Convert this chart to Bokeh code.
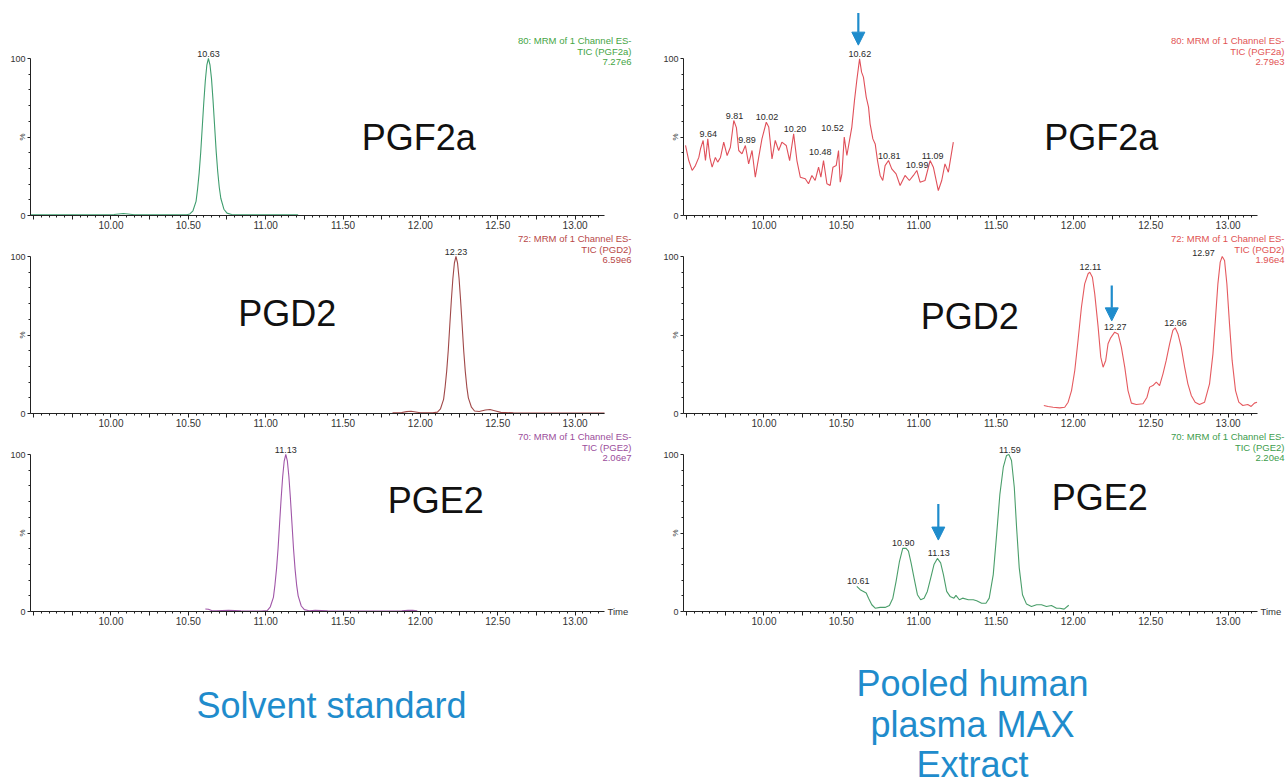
import math
from bokeh.plotting import figure
from bokeh.models import (ColumnDataSource, LabelSet, Label, Arrow, NormalHead,
                          FixedTicker, CustomJSTickFormatter, Range1d, LinearAxis)
from bokeh.layouts import row, column
from bokeh.embed import file_html
from bokeh.resources import INLINE
from bokeh.core.properties import value

# ---------------- data (retention time in min, relative intensity in %) ----------------
# Solvent standard
pgf2a_std_time = [9.48, 9.70, 9.90, 10.02, 10.05, 10.08, 10.11, 10.15, 10.30, 10.45,
                  10.49, 10.51, 10.53, 10.55, 10.56, 10.57, 10.58, 10.59, 10.60, 10.61,
                  10.62, 10.63, 10.64, 10.65, 10.66, 10.67, 10.68, 10.69, 10.70, 10.71,
                  10.73, 10.75, 10.78, 10.85, 11.00, 11.21]
pgf2a_std_int = [0.4, 0.4, 0.4, 0.6, 1.0, 1.3, 1.0, 0.5, 0.4, 0.4,
                 0.5, 1.0, 3.0, 9.0, 17.0, 27.0, 40.0, 56.0, 72.0, 86.0,
                 96.0, 100.0, 96.0, 87.0, 73.0, 57.0, 41.0, 28.0, 18.0, 11.0,
                 4.0, 1.5, 0.6, 0.4, 0.4, 0.4]

pgd2_std_time = [11.82, 11.88, 11.91, 11.94, 11.97, 12.00, 12.08, 12.11, 12.13, 12.15,
                 12.16, 12.17, 12.18, 12.19, 12.20, 12.21, 12.22, 12.23, 12.24, 12.25,
                 12.26, 12.27, 12.28, 12.29, 12.30, 12.31, 12.33, 12.35, 12.38, 12.42,
                 12.45, 12.48, 12.52, 12.60, 12.80, 13.00, 13.19]
pgd2_std_int = [0.4, 0.6, 1.2, 1.4, 1.0, 0.5, 0.5, 0.9, 3.0, 9.0,
                17.0, 27.0, 40.0, 56.0, 72.0, 86.0, 96.0, 100.0, 96.0, 86.0,
                72.0, 56.0, 40.0, 27.0, 17.0, 10.0, 4.0, 1.6, 1.3, 2.2,
                2.5, 1.8, 0.7, 0.4, 0.3, 0.3, 0.3]

pge2_std_time = [10.61, 10.63, 10.65, 10.68, 10.72, 10.76, 10.80, 10.84, 10.90, 10.97,
                 11.01, 11.03, 11.05, 11.06, 11.07, 11.08, 11.09, 11.10, 11.11, 11.12,
                 11.13, 11.14, 11.15, 11.16, 11.17, 11.18, 11.19, 11.20, 11.21,
                 11.23, 11.25, 11.28, 11.32, 11.40, 11.60, 11.88, 11.92, 11.95, 11.98]
pge2_std_int = [1.6, 1.4, 0.6, 0.4, 0.6, 0.7, 0.6, 0.4, 0.3, 0.3,
                0.6, 3.0, 9.0, 17.0, 27.0, 40.0, 56.0, 72.0, 86.0, 96.0,
                100.0, 96.0, 86.0, 72.0, 56.0, 40.0, 27.0, 17.0, 10.0,
                3.5, 1.2, 0.5, 0.7, 0.4, 0.3, 0.4, 0.8, 0.7, 0.4]

# Pooled human plasma MAX extract
pgf2a_pl_time = [9.493, 9.514, 9.536, 9.557, 9.579, 9.590, 9.607, 9.622, 9.637, 9.650,
                 9.665, 9.686, 9.701, 9.719, 9.740, 9.762, 9.783, 9.805, 9.822, 9.837,
                 9.858, 9.880, 9.901, 9.923, 9.944, 9.966, 9.987, 10.015, 10.031, 10.052,
                 10.073, 10.095, 10.116, 10.144, 10.166, 10.192, 10.213, 10.235, 10.267, 10.288,
                 10.310, 10.331, 10.353, 10.368, 10.385, 10.407, 10.428, 10.446, 10.467, 10.482,
                 10.493, 10.504, 10.519, 10.536, 10.553, 10.568, 10.585, 10.600, 10.618, 10.631,
                 10.643, 10.661, 10.676, 10.686, 10.704, 10.719, 10.734, 10.751, 10.768, 10.783,
                 10.805, 10.826, 10.854, 10.880, 10.912, 10.940, 10.966, 10.988, 11.009, 11.041,
                 11.074, 11.095, 11.127, 11.149, 11.170, 11.192, 11.224]
pgf2a_pl_int = [44.6, 35.0, 28.7, 31.8, 37.0, 42.5, 47.8, 35.0, 48.8, 37.0,
                30.8, 37.0, 34.0, 37.0, 46.7, 38.2, 43.5, 60.5, 56.0, 41.4,
                39.3, 44.6, 32.9, 41.4, 24.4, 37.0, 48.8, 59.4, 56.3, 36.0,
                47.8, 41.4, 46.7, 44.6, 35.0, 52.0, 35.0, 24.4, 23.4, 20.2,
                25.5, 22.3, 30.8, 24.4, 35.0, 20.2, 19.1, 30.8, 31.8, 41.4,
                21.2, 26.5, 49.9, 38.2, 47.8, 56.3, 73.2, 86.0, 99.8, 91.3,
                88.1, 75.4, 69.0, 58.4, 48.8, 45.6, 35.0, 25.5, 22.3, 31.8,
                35.0, 29.7, 26.5, 19.1, 25.5, 22.3, 25.5, 28.7, 21.2, 22.3,
                35.0, 30.8, 15.9, 22.3, 32.9, 27.6, 46.7]

pgd2_pl_time = [11.809, 11.837, 11.869, 11.912, 11.944, 11.966, 11.988, 12.009, 12.030, 12.052,
                12.073, 12.095, 12.106, 12.123, 12.138, 12.160, 12.177, 12.192, 12.209, 12.224,
                12.241, 12.267, 12.289, 12.310, 12.332, 12.353, 12.375, 12.407, 12.450, 12.476,
                12.493, 12.514, 12.536, 12.557, 12.579, 12.600, 12.622, 12.643, 12.658, 12.676,
                12.697, 12.719, 12.740, 12.762, 12.787, 12.815, 12.848, 12.880, 12.902, 12.919,
                12.934, 12.949, 12.962, 12.977, 12.992, 13.009, 13.026, 13.048, 13.069, 13.095,
                13.127, 13.149, 13.170, 13.187]
pgd2_pl_int = [5.1, 4.5, 4.0, 3.6, 4.0, 7.2, 14.6, 27.4, 46.5, 67.7,
               82.6, 89.0, 90.0, 86.8, 76.2, 55.0, 35.9, 29.5, 33.8, 44.4,
               48.2, 51.8, 50.7, 42.3, 29.5, 14.6, 6.6, 5.7, 6.2, 10.4,
               16.8, 17.8, 20.0, 17.8, 25.3, 33.8, 44.4, 52.9, 54.6, 50.7,
               42.3, 29.5, 18.9, 11.5, 7.2, 5.7, 7.2, 18.9, 38.0, 61.4,
               82.6, 96.4, 100.0, 97.5, 82.6, 57.1, 33.8, 14.6, 7.2, 5.1,
               5.7, 4.5, 6.6, 7.2]

pge2_pl_time = [10.600, 10.622, 10.643, 10.661, 10.676, 10.697, 10.719, 10.751, 10.783, 10.811,
                10.833, 10.854, 10.876, 10.897, 10.919, 10.934, 10.951, 10.970, 10.992, 11.013,
                11.035, 11.056, 11.078, 11.099, 11.121, 11.142, 11.160, 11.181, 11.203, 11.228,
                11.241, 11.263, 11.284, 11.321, 11.353, 11.375, 11.407, 11.435, 11.456, 11.482,
                11.504, 11.525, 11.547, 11.568, 11.583, 11.600, 11.618, 11.633, 11.650, 11.671,
                11.697, 11.729, 11.762, 11.794, 11.826, 11.858, 11.891, 11.912, 11.940, 11.970]
pge2_pl_int = [16.0, 13.9, 12.8, 11.8, 8.5, 4.3, 2.1, 2.6, 2.6, 3.8,
               8.5, 19.2, 32.0, 40.2, 40.2, 38.5, 31.0, 21.4, 10.7, 7.5,
               8.5, 12.8, 21.4, 29.9, 33.8, 31.0, 23.5, 12.8, 9.6, 8.5,
               10.3, 7.5, 8.5, 7.5, 7.5, 6.8, 5.3, 5.3, 8.5, 23.5,
               49.1, 74.8, 91.9, 99.4, 100.0, 96.2, 79.1, 53.4, 27.8, 10.7,
               4.7, 3.2, 4.3, 4.3, 3.2, 3.8, 2.1, 2.1, 1.5, 4.0]

# labelled peaks (apex time, relative height)
pgf2a_std_peak_t = [10.63]
pgf2a_std_peak_i = [100.0]
pgd2_std_peak_t = [12.23]
pgd2_std_peak_i = [100.0]
pge2_std_peak_t = [11.13]
pge2_std_peak_i = [100.0]
pgf2a_pl_peak_t = [9.64, 9.81, 9.89, 10.02, 10.20, 10.48, 10.52, 10.62, 10.81, 10.99, 11.09]
pgf2a_pl_peak_i = [48.8, 60.5, 44.6, 59.4, 52.0, 41.4, 49.9, 99.8, 35.0, 28.7, 35.0]
pgd2_pl_peak_t = [12.11, 12.27, 12.66, 12.97]
pgd2_pl_peak_i = [90.0, 51.8, 54.6, 100.0]
pge2_pl_peak_t = [10.61, 10.90, 11.13, 11.59]
pge2_pl_peak_i = [16.0, 40.2, 33.8, 100.0]

# header texts
info_pgf2a_std = ["80: MRM of 1 Channel ES-", "TIC (PGF2a)", "7.27e6"]
info_pgd2_std = ["72: MRM of 1 Channel ES-", "TIC (PGD2)", "6.59e6"]
info_pge2_std = ["70: MRM of 1 Channel ES-", "TIC (PGE2)", "2.06e7"]
info_pgf2a_pl = ["80: MRM of 1 Channel ES-", "TIC (PGF2a)", "2.79e3"]
info_pgd2_pl = ["72: MRM of 1 Channel ES-", "TIC (PGD2)", "1.96e4"]
info_pge2_pl = ["70: MRM of 1 Channel ES-", "TIC (PGE2)", "2.20e4"]

compound_names = ["PGF2a", "PGD2", "PGE2"]
caption_left = ["Solvent standard"]
caption_right = ["Pooled human", "plasma MAX", "Extract"]
x_tick_values = [9.5, 9.75, 10.0, 10.25, 10.5, 10.75, 11.0, 11.25, 11.5, 11.75,
                 12.0, 12.25, 12.5, 12.75, 13.0]

# arrows marking the analyte in the plasma extract (time, from %, to %)
arrow_pgf2a = (10.61, 129.0, 108.5)
arrow_pgd2 = (12.248, 81.5, 59.0)
arrow_pge2 = (11.127, 68.5, 45.5)

# ---------------- styling / geometry ----------------
FONT = "Liberation Sans"
X0, X1 = 9.48, 13.19          # extent of the time axis
XS = 574.0 / (X1 - X0)        # px per minute
YS = 1.57                     # px per %
BLUE = "#1f8ccc"
AX = "#222222"
TXT = "#333333"

minor_x = [round(9.5 + 0.05 * k, 2) for k in range(0, 74)]


def make_panel(t, y, color, info, info_color, peak_t, peak_i, peak_off,
               fw, fh, pad_left, pad_bottom, name, name_xy, time_label=False,
               arrow=None):
    x_start = X0 - pad_left / XS
    x_end = X0 + (fw - pad_left) / XS
    y_start = -pad_bottom / YS
    y_end = (fh - pad_bottom) / YS
    p = figure(frame_width=fw, frame_height=fh,
               x_range=Range1d(x_start, x_end), y_range=Range1d(y_start, y_end),
               x_axis_location=None, y_axis_location=None,
               output_backend="svg", toolbar_location=None, min_border=0)
    p.outline_line_color = None
    p.background_fill_color = "white"
    p.border_fill_color = "white"
    p.grid.visible = False
    p.xgrid.grid_line_color = None
    p.ygrid.grid_line_color = None

    xa = LinearAxis(fixed_location=0, bounds=(X0, X1))
    xa.ticker = FixedTicker(ticks=x_tick_values, minor_ticks=minor_x)
    xa.formatter = CustomJSTickFormatter(
        code="return (tick > 9.9 && Math.abs(tick*2 - Math.round(tick*2)) < 1e-6) ? tick.toFixed(2) : '';")
    xa.major_tick_in = 0
    xa.major_tick_out = 4
    xa.minor_tick_in = 0
    xa.minor_tick_out = 2
    xa.major_label_standoff = 1
    xa.major_label_text_font = FONT
    xa.major_label_text_font_size = "10px"
    xa.major_label_text_color = TXT
    xa.axis_line_color = AX
    xa.major_tick_line_color = AX
    xa.minor_tick_line_color = AX
    p.add_layout(xa, "below")

    ya = LinearAxis(fixed_location=X0, bounds=(0, 100))
    ya.ticker = FixedTicker(ticks=[0, 50, 100], minor_ticks=[10, 20, 30, 40, 60, 70, 80, 90])
    ya.major_label_overrides = {0: "0", 50: "", 100: "100"}
    ya.major_tick_in = 0
    ya.major_tick_out = 3
    ya.minor_tick_in = 0
    ya.minor_tick_out = 2
    ya.major_label_standoff = 2
    ya.major_label_text_font = FONT
    ya.major_label_text_font_size = "9px"
    ya.major_label_text_color = TXT
    ya.axis_line_color = AX
    ya.major_tick_line_color = AX
    ya.minor_tick_line_color = AX
    p.add_layout(ya, "left")

    p.add_layout(Label(x=X0, y=50, x_offset=-8, text="%", angle=math.pi / 2,
                       text_align="center", text_baseline="middle",
                       text_font=FONT, text_font_size="8px", text_color=TXT))

    p.line(t, y, line_color=color, line_width=1.1)

    src = ColumnDataSource(dict(
        x=peak_t, y=peak_i, text=["%.2f" % v for v in peak_t],
        dx=[o[0] for o in peak_off], dy=[o[1] for o in peak_off]))
    p.add_layout(LabelSet(x="x", y="y", text="text", source=src,
                          x_offset="dx", y_offset="dy",
                          text_align="center", text_baseline="bottom",
                          text_font=value(FONT), text_font_size="9px",
                          text_color="#2a2a2a"))

    for line, dy in zip(info, [18, 7.5, -3]):
        p.add_layout(Label(x=X1, y=100, x_offset=27, y_offset=dy, text=line,
                           text_align="right", text_baseline="middle",
                           text_font=FONT, text_font_size="9.5px",
                           text_color=info_color))

    p.add_layout(Label(x=name_xy[0], y=name_xy[1], text=name,
                       text_align="center", text_baseline="middle",
                       text_font=FONT, text_font_size="36px", text_color="#111111"))

    if time_label:
        p.add_layout(Label(x=X1, y=0, x_offset=3, text="Time",
                           text_align="left", text_baseline="middle",
                           text_font=FONT, text_font_size="9.5px", text_color=TXT))
    if arrow is not None:
        at, a0, a1 = arrow
        p.add_layout(Arrow(end=NormalHead(size=13, fill_color=BLUE, line_color=BLUE),
                           x_start=at, y_start=a0, x_end=at, y_end=a1,
                           line_color=BLUE, line_width=2.2))
    return p


def offs(n, special=None):
    o = [(0, 2)] * n
    if special:
        for i, v in special.items():
            o[i] = v
    return o


LW, RW = 651, 635      # column widths
LP, RP = 30, 32        # distance from column edge to the y axis

f1L = make_panel(pgf2a_std_time, pgf2a_std_int, "#3f9d6e", info_pgf2a_std, "#45a545",
                 pgf2a_std_peak_t, pgf2a_std_peak_i, offs(1),
                 LW, 233, LP, 18, compound_names[0], (11.99, 50))
f1R = make_panel(pgf2a_pl_time, pgf2a_pl_int, "#e0505a", info_pgf2a_pl, "#e25555",
                 pgf2a_pl_peak_t, pgf2a_pl_peak_i, offs(11, {5: (-18, -4), 6: (-12, 6)}),
                 RW, 233, RP, 18, compound_names[0], (12.18, 50), arrow=arrow_pgf2a)

f2L = make_panel(pgd2_std_time, pgd2_std_int, "#a04848", info_pgd2_std, "#b84848",
                 pgd2_std_peak_t, pgd2_std_peak_i, offs(1),
                 LW, 198, LP, 18, compound_names[1], (11.14, 63.5))
f2R = make_panel(pgd2_pl_time, pgd2_pl_int, "#e55a5f", info_pgd2_pl, "#e05252",
                 pgd2_pl_peak_t, pgd2_pl_peak_i, offs(4, {3: (-20, 1)}),
                 RW, 198, RP, 18, compound_names[1], (11.33, 62), arrow=arrow_pgd2)

f3L = make_panel(pge2_std_time, pge2_std_int, "#a056a8", info_pge2_std, "#9b4d9b",
                 pge2_std_peak_t, pge2_std_peak_i, offs(1),
                 LW, 202, LP, 22, compound_names[2], (12.10, 71), time_label=True)
f3R = make_panel(pge2_pl_time, pge2_pl_int, "#4a9e6a", info_pge2_pl, "#3d9c4c",
                 pge2_pl_peak_t, pge2_pl_peak_i, offs(4),
                 RW, 202, RP, 22, compound_names[2], (12.17, 72.5),
                 time_label=True, arrow=arrow_pge2)


def caption(w, h, xs, ys, texts):
    c = figure(width=w, height=h, x_range=Range1d(0, w), y_range=Range1d(0, h),
               output_backend="svg", toolbar_location=None, min_border=0,
               x_axis_location=None, y_axis_location=None)
    c.grid.visible = False
    c.outline_line_color = None
    c.text(x=xs, y=ys, text=texts, text_font=value(FONT), text_font_size="36px",
           text_color=BLUE, text_align="center", text_baseline="middle")
    return c


capL = caption(LW, 151, [331], [79], caption_left)
capR = caption(RW, 151, [321, 321, 321], [101, 60, 20], caption_right)

layout = column(row(f1L, f1R), row(f2L, f2R), row(f3L, f3R), row(capL, capR))

open("out.html", "w").write(file_html(layout, INLINE))
